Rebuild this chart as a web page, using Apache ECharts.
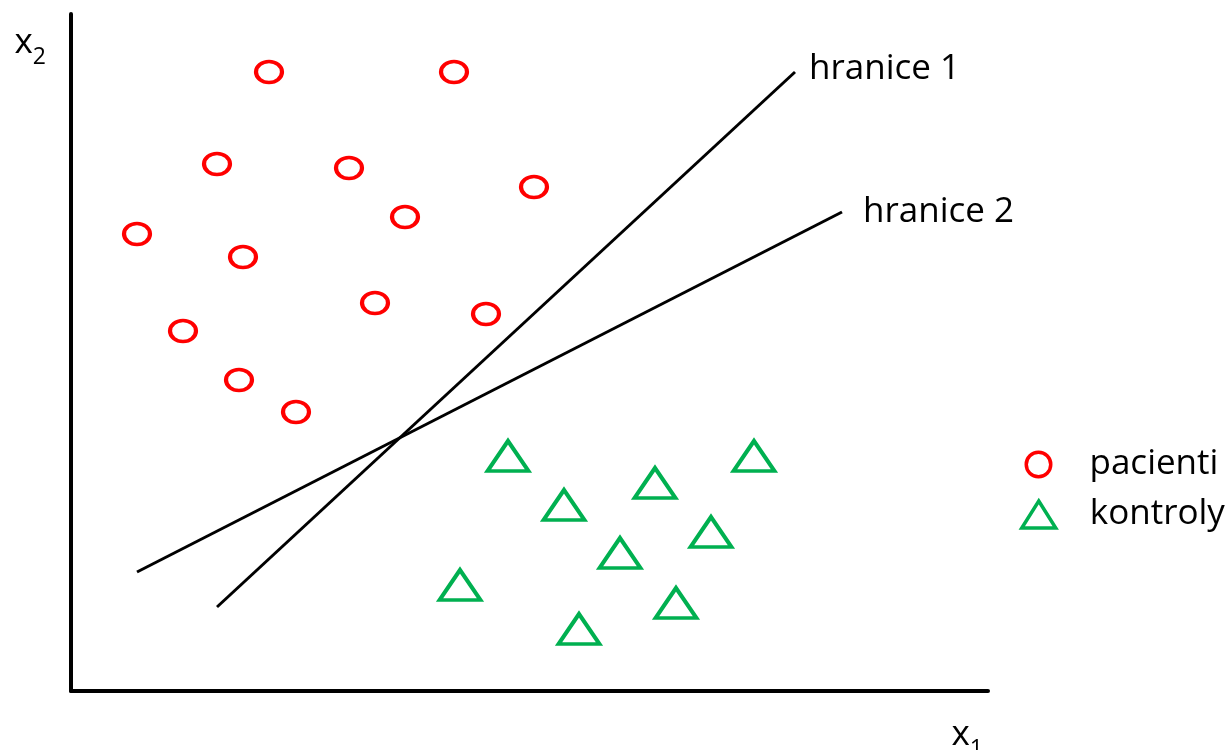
<!DOCTYPE html>
<html>
<head>
<meta charset="utf-8">
<script src="https://cdn.jsdelivr.net/npm/echarts@6/dist/echarts.min.js"></script>
<style>html,body{margin:0;padding:0;background:#fff}#chart{width:1225px;height:750px}</style>
</head>
<body>
<div id="chart"></div>
<script>
// Data (arbitrary units)
const pacienti = [
  [198, 619], [383, 619], [146, 527], [278, 523], [463, 504], [334, 474],
  [66, 457], [172, 434], [304, 388], [415, 377], [112, 360], [168, 311], [225, 279]
];
const kontroly = [
  [437, 235], [683, 235], [584, 208], [493, 186], [640, 159],
  [549, 138], [389, 106], [605, 88], [508, 62]
];
const hranice1 = [[146, 84], [724, 619]];
const hranice2 = [[66, 119], [771, 479]];
const seriesNames = ['pacienti', 'kontroly', 'hranice 1', 'hranice 2'];
const xRange = [0, 917];
const yRange = [0, 677];

const FONT = 'Open Sans';
const RED = '#ff0000';
const GREEN = '#00b050';

const chart = echarts.init(document.getElementById('chart'));
const axisCommon = {
  type: 'value',
  axisLine: { show: true, lineStyle: { color: '#000', width: 4 } },
  axisTick: { show: false },
  axisLabel: { show: false },
  splitLine: { show: false }
};
chart.setOption({
  animation: false,
  backgroundColor: '#fff',
  grid: { left: 71, right: 237, top: 14, bottom: 59, containLabel: false, outerBoundsMode: 'none' },
  xAxis: Object.assign({}, axisCommon, {
    min: xRange[0], max: xRange[1],
    name: '{a|x}{b|1}',
    nameLocation: 'end',
    nameGap: 0,
    nameTextStyle: {
      align: 'right', verticalAlign: 'top', padding: [27, 5, 0, 0],
      rich: {
        a: { fontSize: 35, fontFamily: FONT, color: '#000', verticalAlign: 'bottom', padding: [0, 0, 8, 0] },
        b: { fontSize: 23, fontFamily: FONT, color: '#000', verticalAlign: 'bottom' }
      }
    }
  }),
  yAxis: Object.assign({}, axisCommon, {
    min: yRange[0], max: yRange[1],
    name: '{a|x}{b|2}',
    nameLocation: 'end',
    nameGap: -12,
    nameTextStyle: {
      align: 'right', verticalAlign: 'top', padding: [0, 25, 0, 0],
      rich: {
        a: { fontSize: 35, fontFamily: FONT, color: '#000', verticalAlign: 'bottom', padding: [0, 0, 8, 0] },
        b: { fontSize: 23, fontFamily: FONT, color: '#000', verticalAlign: 'bottom' }
      }
    }
  }),
  legend: [
    {
      data: [seriesNames[0]], orient: 'vertical', left: 1024.5, top: 447, padding: 0,
      itemWidth: 25, itemHeight: 24.5, selectedMode: false, symbolKeepAspect: false,
      itemStyle: { borderWidth: 3.5, borderColor: RED, color: 'rgba(0,0,0,0)' },
      textStyle: { fontSize: 35, fontFamily: FONT, color: '#000', padding: [0, 0, 0, 33.5] }
    },
    {
      data: [seriesNames[1]], orient: 'vertical', left: 1020, top: 497, padding: 0,
      itemWidth: 34, itemHeight: 27, selectedMode: false, symbolKeepAspect: false,
      itemStyle: { borderWidth: 3.5, borderColor: GREEN, color: 'rgba(0,0,0,0)' },
      textStyle: { fontSize: 35, fontFamily: FONT, color: '#000', padding: [0, 0, 0, 29] }
    }
  ],
  series: [
    {
      name: seriesNames[2], type: 'line', data: hranice1, symbol: 'none',
      lineStyle: { color: '#000', width: 3 },
      endLabel: { show: true, formatter: '{a}', fontSize: 35, fontFamily: FONT, color: '#000', distance: 14, offset: [0, -3] }
    },
    {
      name: seriesNames[3], type: 'line', data: hranice2, symbol: 'none',
      lineStyle: { color: '#000', width: 3 },
      endLabel: { show: true, formatter: '{a}', fontSize: 35, fontFamily: FONT, color: '#000', distance: 21, offset: [0, 0] }
    },
    {
      name: seriesNames[0], type: 'scatter', data: pacienti,
      symbol: 'circle', symbolSize: [26, 21],
      itemStyle: { color: 'rgba(0,0,0,0)', borderColor: RED, borderWidth: 3.8, opacity: 1 }
    },
    {
      name: seriesNames[1], type: 'scatter', data: kontroly,
      symbol: 'triangle', symbolSize: [41, 30],
      itemStyle: { color: 'rgba(0,0,0,0)', borderColor: GREEN, borderWidth: 3.8, opacity: 1 }
    }
  ]
});
</script>
</body>
</html>
